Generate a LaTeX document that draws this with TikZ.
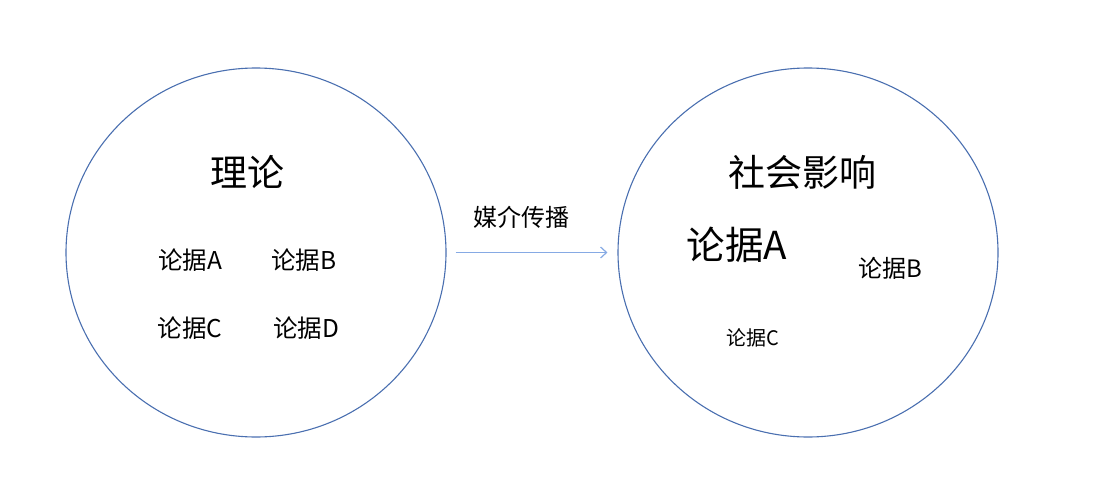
\documentclass[tikz,border=0pt]{standalone}
\usepackage{fontspec}
\setmainfont{Noto Sans CJK SC}
\usetikzlibrary{shapes.geometric,arrows.meta}
\definecolor{ringblue}{HTML}{4A6FB0}
\definecolor{arrowblue}{HTML}{86AAE4}
\tikzset{
    ring/.style={draw=ringblue,line width=1.1pt,ellipse,minimum width=380pt,minimum height=369pt,inner sep=0pt},
    lbl/.style={inner sep=0pt,font=\fontsize{#1}{#1}\selectfont}
}
\begin{document}
\begin{tikzpicture}[x=1pt,y=-1pt,>={Straight Barb[length=6pt,width=11pt]}]
        \useasboundingbox (0,0) rectangle (1100,495);
        \node[ring] (theory) at (256,252.5) {};
        \node[ring] (impact) at (808,252.5) {};
        % left circle
        \node[lbl=37] (theorytitle) at (247,172) {理论};
        \node[lbl=24.5] (la) at (190,260) {论据A};
        \node[lbl=24.5] (lb) at (304,260) {论据B};
        \node[lbl=24.5] (lc) at (190,328) {论据C};
        \node[lbl=24.5] (ld) at (306,328) {论据D};
        % right circle
        \node[lbl=37] (impacttitle) at (802,172) {社会影响};
        \node[lbl=38.5] (ra) at (737,245) {论据A};
        \node[lbl=24] (rb) at (890,268) {论据B};
        \node[lbl=20] (rc) at (753,338) {论据C};
        % arrow
        \draw[->,arrowblue,line width=1.2pt,shorten <=9pt,shorten >=10pt] (theory.east) -- (impact.west);
        \node[lbl=24] (media) at (521,217) {媒介传播};

    \end{tikzpicture}
\end{document}
